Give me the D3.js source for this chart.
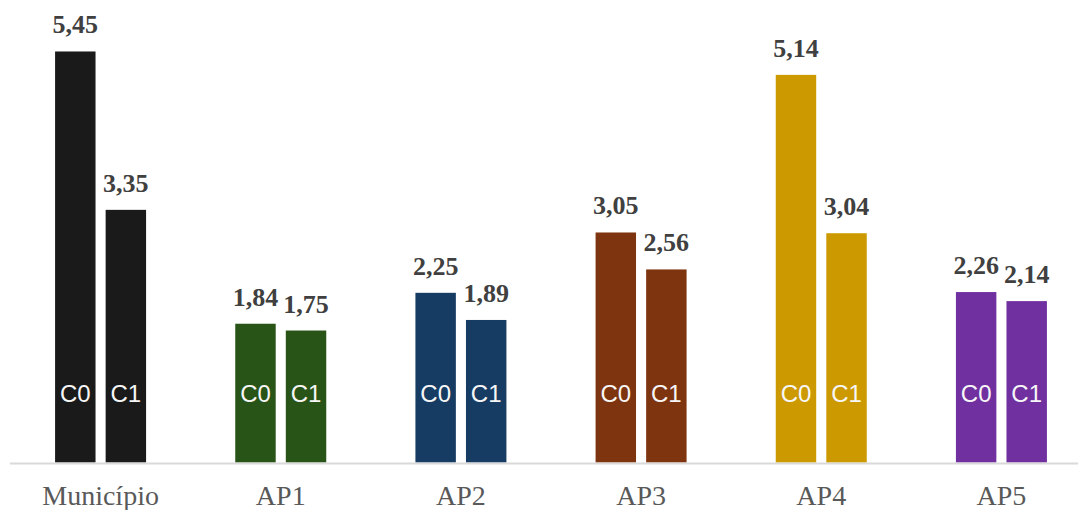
<!DOCTYPE html>
<html>
<head>
<meta charset="utf-8">
<script src="https://cdn.jsdelivr.net/npm/d3@7"></script>
<style>
  html, body { margin: 0; padding: 0; background: #fff; }
  svg { display: block; }
  .serif { font-family: "Liberation Serif", "Times New Roman", "DejaVu Serif", serif; }
  .sans { font-family: "Liberation Sans", Arial, sans-serif; }
</style>
</head>
<body>
<div id="chart"></div>
<script>
// --------------- Data ---------------
const categories = ["Município", "AP1", "AP2", "AP3", "AP4", "AP5"];
const seriesNames = ["C0", "C1"];
const c0Values = [5.45, 1.84, 2.25, 3.05, 5.14, 2.26];
const c1Values = [3.35, 1.75, 1.89, 2.56, 3.04, 2.14];
const groupColors = ["#1a1a1a", "#285418", "#173c63", "#7f3410", "#cc9900", "#7030a0"];

// --------------- Constants ---------------
const WIDTH = 1078;
const HEIGHT = 510;
const BASE_Y = 462.5;

const rows = categories.map((cat, i) => ({
  cat,
  color: groupColors[i],
  values: [
    { key: "C0", value: c0Values[i] },
    { key: "C1", value: c1Values[i] },
  ],
}));

const svg = d3
  .select("#chart")
  .append("svg")
  .attr("width", WIDTH)
  .attr("height", HEIGHT);

const x0 = d3.scaleBand().domain(categories).range([10.5, 1091.5]);
const x1 = d3.scaleBand().domain(seriesNames).range([-45.5, 45.5]).paddingInner(0.2);
const y = d3.scaleLinear().domain([0, 6]).range([BASE_Y, 10]);

const fmt = (v) => d3.format(".2f")(v).replace(".", ",");

const groups = svg
  .append("g")
  .selectAll("g")
  .data(rows)
  .enter()
  .append("g")
  .attr("transform", (d) => `translate(${x0(d.cat) + x0.bandwidth() / 2},0)`);

// bars
groups
  .selectAll("rect")
  .data((d) => d.values.map((v) => ({ ...v, color: d.color })))
  .enter()
  .append("rect")
  .attr("x", (d) => x1(d.key))
  .attr("width", x1.bandwidth())
  .attr("y", (d) => y(d.value))
  .attr("height", (d) => BASE_Y - y(d.value))
  .attr("fill", (d) => d.color);

// series names inside bars
groups
  .selectAll("text.inner")
  .data((d) => d.values)
  .enter()
  .append("text")
  .attr("class", "inner sans")
  .attr("x", (d) => x1(d.key) + x1.bandwidth() / 2)
  .attr("y", 402)
  .attr("text-anchor", "middle")
  .attr("fill", "#f7f7f7")
  .attr("font-size", 24)
  .text((d) => d.key);

// value labels
groups
  .selectAll("text.val")
  .data((d) => d.values)
  .enter()
  .append("text")
  .attr("class", "val serif")
  .attr("x", (d) => x1(d.key) + x1.bandwidth() / 2)
  .attr("y", (d) => y(d.value) - 18)
  .attr("text-anchor", "middle")
  .attr("fill", "#404040")
  .attr("font-weight", "bold")
  .attr("font-size", 26)
  .text((d) => fmt(d.value));

// baseline
svg
  .append("line")
  .attr("x1", 10)
  .attr("x2", WIDTH)
  .attr("y1", BASE_Y + 1)
  .attr("y2", BASE_Y + 1)
  .attr("stroke", "#d9d9d9")
  .attr("stroke-width", 2);

// category axis
const xAxis = svg
  .append("g")
  .attr("transform", `translate(0,${BASE_Y})`)
  .call(d3.axisBottom(x0).tickSize(0).tickPadding(0));
xAxis.select(".domain").remove();
xAxis.attr("font-family", null).attr("font-size", null);
xAxis
  .selectAll("text")
  .attr("class", "serif")
  .attr("dy", 0)
  .attr("y", 42)
  .attr("fill", "#595959")
  .attr("font-size", 28);
</script>
</body>
</html>
